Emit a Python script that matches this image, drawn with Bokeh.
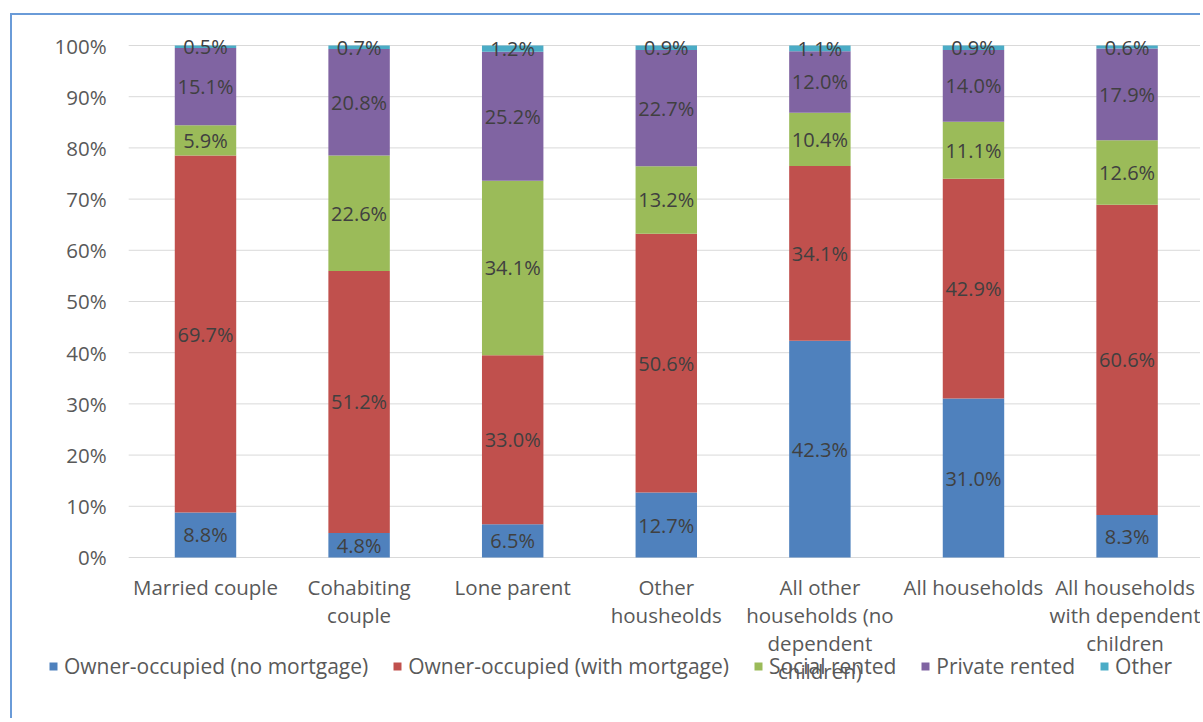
from bokeh.plotting import figure
from bokeh.models import ColumnDataSource, FixedTicker, Legend, LegendItem, Range1d
from bokeh.core.properties import value
from bokeh.embed import file_html
from bokeh.resources import INLINE

categories = ["Married couple", "Cohabiting\ncouple", "Lone parent", "Other\nhousheolds",
              "All other\nhouseholds (no\ndependent\nchildren)", "All households",
              "All households\nwith dependent\nchildren"]
series = ["Owner-occupied (no mortgage)", "Owner-occupied (with mortgage)",
          "Social rented", "Private rented", "Other"]
owner_no_mortgage = [8.8, 4.8, 6.5, 12.7, 42.3, 31.0, 8.3]
owner_mortgage = [69.7, 51.2, 33.0, 50.6, 34.1, 42.9, 60.6]
social_rented = [5.9, 22.6, 34.1, 13.2, 10.4, 11.1, 12.6]
private_rented = [15.1, 20.8, 25.2, 22.7, 12.0, 14.0, 17.9]
other = [0.5, 0.7, 1.2, 0.9, 1.1, 0.9, 0.6]
colors = ["#4F81BD", "#C0504D", "#9BBB59", "#8064A2", "#4BACC6"]
y_ticks = [0, 10, 20, 30, 40, 50, 60, 70, 80, 90, 100]

raw = [owner_no_mortgage, owner_mortgage, social_rented, private_rented, other]
keys = ["s0", "s1", "s2", "s3", "s4"]
xs = list(range(len(categories)))
totals = [sum(r[i] for r in raw) for i in xs]
data = {"x": xs}
for k, r in zip(keys, raw):
    data[k] = [v / t * 100 for v, t in zip(r, totals)]
src = ColumnDataSource(data)

FONT = "Open Sans"
TXT = "#595959"

# frame spans the whole figure so that the legend (drawn inside the frame) is not clipped
p = figure(x_range=Range1d(-1.2565, 6.491), y_range=Range1d(-31.84, 105.86),
           width=1190, height=705, output_backend="svg", toolbar_location=None,
           min_border_left=0, min_border_top=0, min_border_bottom=0, min_border_right=0)
p.margin = (13, 0, 0, 10)
p.styles = {"border-left": "2px solid #6A9BD8", "border-top": "2px solid #6A9BD8"}

# horizontal gridlines across the category area
p.segment(x0=[-0.5] * len(y_ticks), x1=[len(categories) - 0.5] * len(y_ticks),
          y0=y_ticks, y1=y_ticks, line_color="#D9D9D9", line_width=1)

renderers = p.vbar_stack(keys, x="x", width=0.4, source=src, color=colors,
                         line_color=None)

# data labels
lx, ly, lt = [], [], []
for i in xs:
    base = 0.0
    for k, r in zip(keys, raw):
        h = data[k][i]
        lx.append(i)
        ly.append(base + h / 2)
        lt.append(f"{r[i]:.1f}%")
        base += h
p.text(x=lx, y=ly, text=lt, text_align="center", text_baseline="middle",
       text_font=value(FONT), text_font_size="20px", text_color="#404040")

p.xgrid.grid_line_color = None
p.ygrid.grid_line_color = None
p.outline_line_color = None

p.yaxis.fixed_location = -0.5
p.yaxis.ticker = FixedTicker(ticks=y_ticks, minor_ticks=[])
p.yaxis.major_label_overrides = {t: f"{t}%" for t in y_ticks}
p.yaxis.major_label_standoff = 22

p.xaxis.fixed_location = 0
p.xaxis.ticker = FixedTicker(ticks=xs, minor_ticks=[])
p.xaxis.major_label_overrides = {i: c for i, c in zip(xs, categories)}
p.xaxis.major_label_standoff = 16
p.xaxis.major_label_text_line_height = 1.0

for ax in (p.xaxis, p.yaxis):
    ax.axis_line_color = None
    ax.major_tick_line_color = None
    ax.minor_tick_line_color = None
    ax.major_tick_out = 0
    ax.major_tick_in = 0
    ax.major_label_text_font = FONT
    ax.major_label_text_font_size = "20.5px"
    ax.major_label_text_color = TXT

leg = Legend(items=[LegendItem(label=s, renderers=[r]) for s, r in zip(series, renderers)])
leg.orientation = "horizontal"
leg.location = (36, 40)
leg.glyph_width = 10
leg.glyph_height = 10
leg.label_standoff = 6
leg.spacing = 24
leg.padding = 0
leg.margin = 0
leg.border_line_color = None
leg.background_fill_alpha = 0
leg.label_text_font = FONT
leg.label_text_font_size = "21px"
leg.label_text_color = TXT
p.add_layout(leg, "center")

open("out.html", "w").write(file_html(p, INLINE))
